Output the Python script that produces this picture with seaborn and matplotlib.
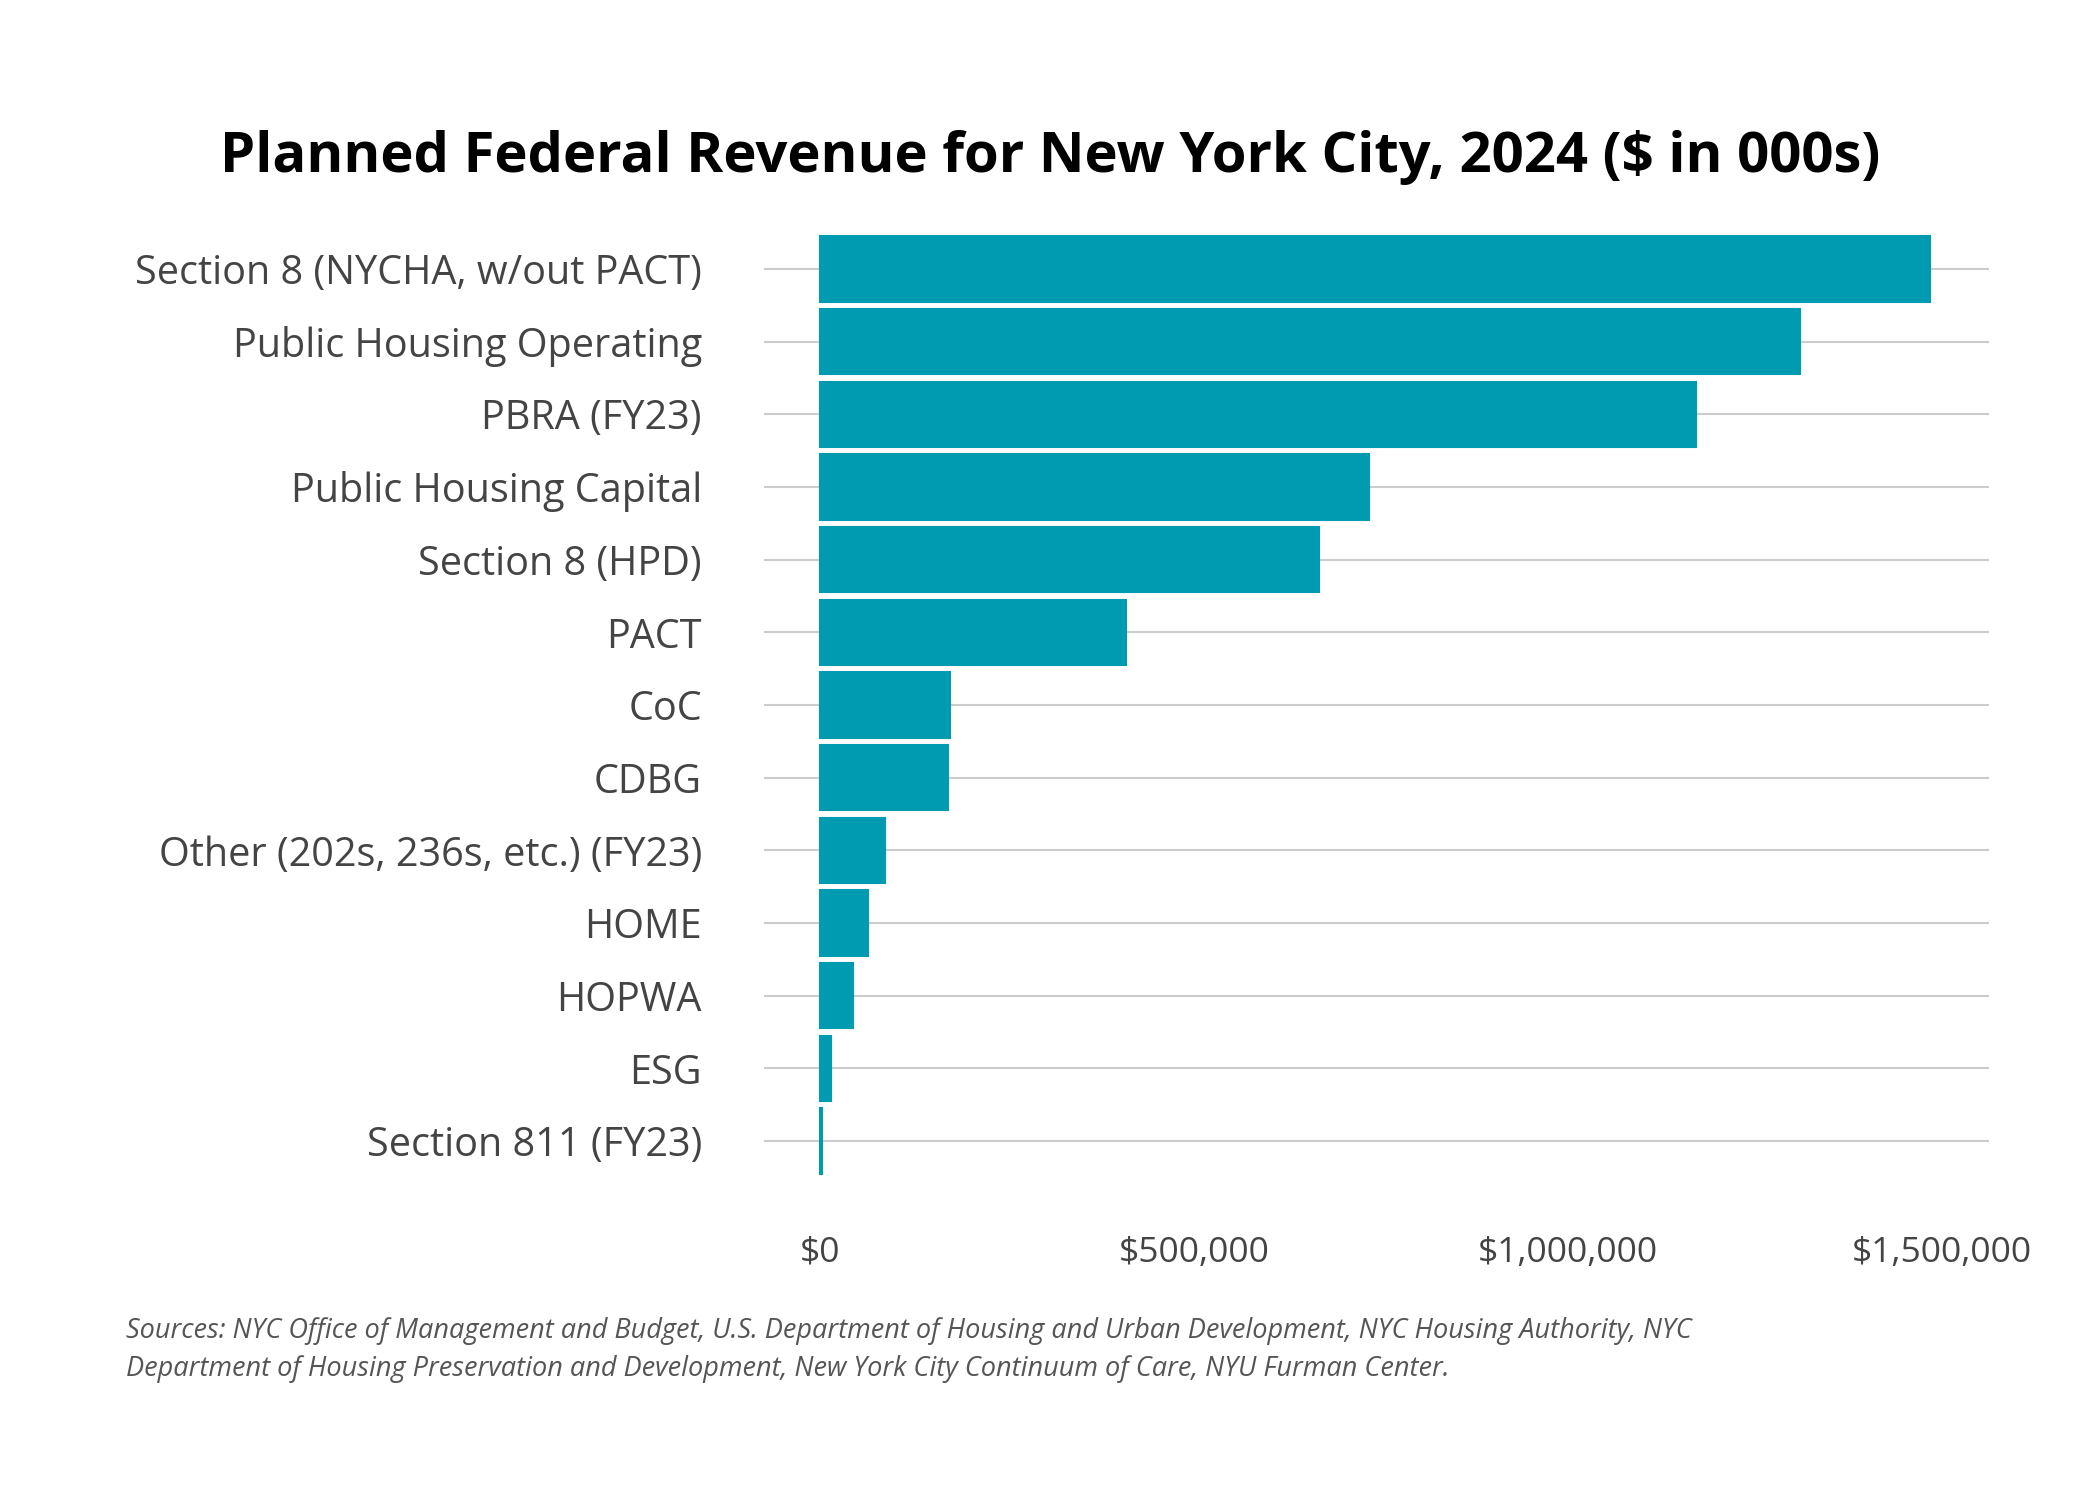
import matplotlib
matplotlib.use("Agg")
import matplotlib.pyplot as plt
import seaborn as sns
import pandas as pd

categories = ["Section 8 (NYCHA, w/out PACT)", "Public Housing Operating", "PBRA (FY23)",
              "Public Housing Capital", "Section 8 (HPD)", "PACT", "CoC", "CDBG",
              "Other (202s, 236s, etc.) (FY23)", "HOME", "HOPWA", "ESG", "Section 811 (FY23)"]
values = [1485000, 1311000, 1172000, 734000, 667000, 409000, 174000, 172000,
          87000, 65000, 45000, 14500, 3000]
xticks = [0, 500000, 1000000, 1500000]
xticklabels = ["$0", "$500,000", "$1,000,000", "$1,500,000"]

sns.set_theme(style="white")
plt.rcParams['font.family'] = ['Open Sans', 'DejaVu Sans']

df = pd.DataFrame({"cat": categories, "val": values})
fig = plt.figure(figsize=(14, 10), dpi=150)
ax = fig.add_axes([0.364, 0.215, 0.583, 0.63])
sns.barplot(data=df, x="val", y="cat", color="#009BB0", width=0.9, saturation=1,
            edgecolor="#009BB0", linewidth=1, ax=ax)
ax.set_axisbelow(True)
ax.grid(False)
ax.yaxis.grid(True, color="#cccccc", lw=1)
ax.set_xlim(-74000, 1563000)
ax.set_xticks(xticks)
ax.set_xticklabels(xticklabels, fontsize=17, color="#444444")
ax.tick_params(axis="x", pad=28, length=0)
ax.tick_params(axis="y", labelsize=19, length=0, pad=30, labelcolor="#444444")
ax.set_xlabel("")
ax.set_ylabel("")
for s in ax.spines.values():
    s.set_visible(False)

fig.text(0.5, 0.895, "Planned Federal Revenue for New York City, 2024 ($ in 000s)",
         ha="center", va="center", fontsize=27, fontweight="bold", color="black")
fig.text(0.06, 0.1, "Sources: NYC Office of Management and Budget, U.S. Department of Housing and Urban Development, NYC Housing Authority, NYC\n"
         "Department of Housing Preservation and Development, New York City Continuum of Care, NYU Furman Center.",
         ha="left", va="center", fontsize=13, style="italic", color="#555555", linespacing=1.5)
fig.savefig("out.png", dpi=150)
